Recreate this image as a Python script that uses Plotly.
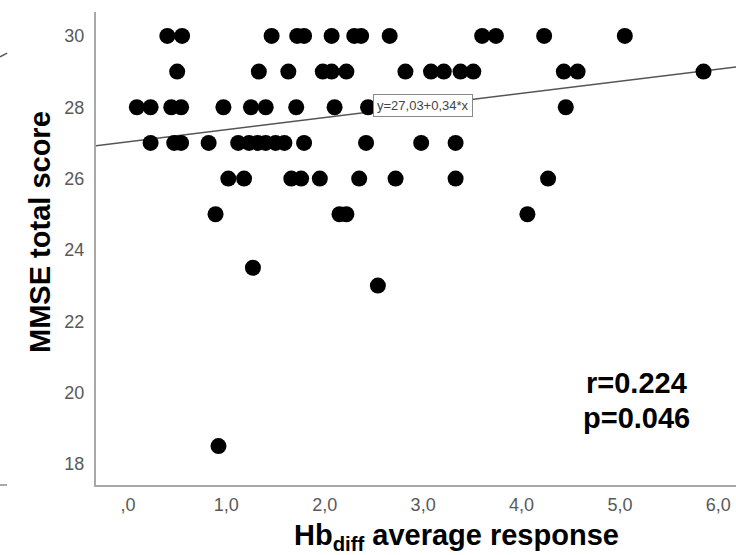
import plotly.graph_objects as go

# Data
hb_diff = [
    # MMSE 30
    0.40, 0.55, 1.46, 1.72, 1.79, 2.07, 2.30, 2.37, 2.66, 3.60, 3.74, 4.23, 5.05,
    # MMSE 29
    0.50, 1.33, 1.63, 1.98, 2.07, 2.22, 2.82, 3.08, 3.21, 3.38, 3.51, 4.43, 4.57, 5.85,
    # MMSE 28
    0.09, 0.23, 0.44, 0.54, 0.97, 1.25, 1.40, 1.71, 2.10, 2.44, 4.45,
    # MMSE 27
    0.23, 0.47, 0.54, 0.82, 1.12, 1.23, 1.32, 1.40, 1.50, 1.59, 1.79, 2.42, 2.98, 3.33,
    # MMSE 26
    1.02, 1.18, 1.66, 1.76, 1.95, 2.35, 2.72, 3.33, 4.27,
    # MMSE 25
    0.89, 2.15, 2.22, 4.06,
    # others
    1.27, 2.54, 0.92,
]
mmse = (
    [30] * 13 + [29] * 14 + [28] * 11 + [27] * 14 + [26] * 9 + [25] * 4
    + [23.5, 23, 18.5]
)

intercept = 27.03
slope = 0.34
fit_label = "y=27,03+0,34*x"
stats_lines = ["r=0.224", "p=0.046"]

x_tick_vals = [0, 1, 2, 3, 4, 5, 6]
x_tick_text = [",0", "1,0", "2,0", "3,0", "4,0", "5,0", "6,0"]
y_tick_vals = [18, 20, 22, 24, 26, 28, 30]

x_range = [-0.325, 6.18]
y_range = [17.41, 30.67]

fit_x = x_range
fit_y = [intercept + slope * v for v in fit_x]

fig = go.Figure()
fig.add_trace(go.Scatter(
    x=fit_x, y=fit_y, mode="lines",
    line=dict(color="#555555", width=1.5),
    hoverinfo="skip", showlegend=False,
))
fig.add_trace(go.Scatter(
    x=hb_diff, y=mmse, mode="markers",
    marker=dict(color="black", size=16, line=dict(width=0)),
    showlegend=False,
))

FONT = "Liberation Sans, Arial, sans-serif"

fig.update_layout(
    width=736, height=555,
    margin=dict(l=96, r=0, t=12, b=70),
    paper_bgcolor="white", plot_bgcolor="white",
    font=dict(family=FONT),
    showlegend=False,
    xaxis=dict(
        range=x_range, tickvals=x_tick_vals, ticktext=x_tick_text,
        showgrid=False, zeroline=False, showline=True,
        linecolor="#a8a8a8", linewidth=2, ticks="",
        tickfont=dict(size=18, color="#595959", family=FONT),
        ticklabelstandoff=2,
    ),
    yaxis=dict(
        range=y_range, tickvals=y_tick_vals,
        showgrid=False, zeroline=False, showline=True,
        linecolor="#a8a8a8", linewidth=2, ticks="",
        tickfont=dict(size=18, color="#595959", family=FONT),
        ticklabelstandoff=6,
    ),
    annotations=[
        dict(text=fit_label, x=3.0, y=28.06, xref="x", yref="y",
             xanchor="center", yanchor="middle",
             showarrow=False, font=dict(size=13, color="#444444", family=FONT),
             bgcolor="white", bordercolor="#888888", borderwidth=1, borderpad=3),
        dict(text="<b>" + stats_lines[0] + "</b>", x=5.17, y=20.27, xref="x", yref="y",
             xanchor="center", yanchor="middle",
             showarrow=False, font=dict(size=29, color="black", family=FONT)),
        dict(text="<b>" + stats_lines[1] + "</b>", x=5.17, y=19.29, xref="x", yref="y",
             xanchor="center", yanchor="middle",
             showarrow=False, font=dict(size=29, color="black", family=FONT)),
        dict(text="<b>MMSE total score</b>", x=-0.0875, y=0.535,
             xref="paper", yref="paper", textangle=-90, showarrow=False,
             xanchor="center", yanchor="middle",
             font=dict(size=29, color="black", family=FONT)),
        dict(text="<b>Hb<sub>diff</sub> average response</b>", x=0.564, y=-0.11,
             xref="paper", yref="paper", showarrow=False,
             xanchor="center", yanchor="middle",
             font=dict(size=29, color="black", family=FONT)),
    ],
    shapes=[
        dict(type="line", xref="paper", yref="paper",
             x0=-0.15, y0=0.905, x1=-0.139, y1=0.913,
             line=dict(color="#555555", width=1.5)),
        dict(type="line", xref="paper", yref="paper",
             x0=-0.15, y0=0.0, x1=-0.139, y1=0.0,
             line=dict(color="#a8a8a8", width=2)),
    ],
)

fig.write_html(
    "out.html",
    config={"displayModeBar": False},
    post_script="document.body.style.margin='0px';document.body.style.overflow='hidden';",
)
